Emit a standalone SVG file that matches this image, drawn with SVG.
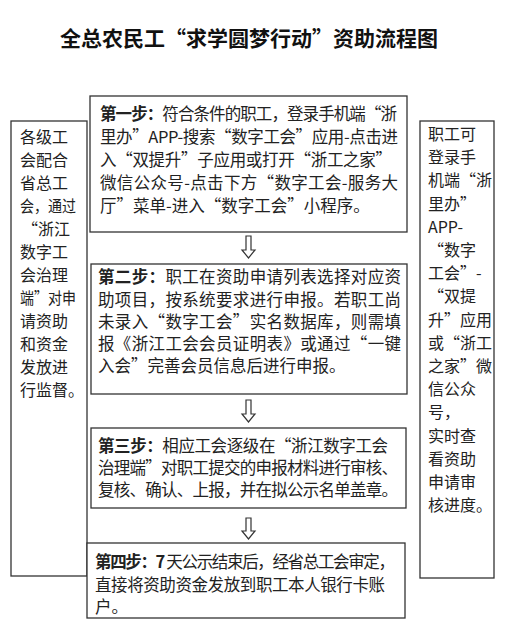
<svg xmlns="http://www.w3.org/2000/svg" width="506" height="638" viewBox="0 0 506 638">
<style>
.bg{fill:#ffffff}
.box{fill:#ffffff;stroke:#333333;stroke-width:1.3}
.t{font-family:"Noto Sans CJK SC","Noto Sans",sans-serif;font-size:16.5px;fill:#222222}
.s{font-family:"Noto Sans CJK SC","Noto Sans",sans-serif;font-size:16px;fill:#222222}
.b{font-weight:bold}
.title{font-family:"Noto Sans CJK SC","Noto Sans",sans-serif;font-size:21px;font-weight:bold;fill:#111111}
.arr{fill:#ffffff;stroke:#333333;stroke-width:1.2;stroke-linejoin:miter}
</style>
<rect class="bg" x="0" y="0" width="506" height="638"/>
<text class="title" x="249" y="46" text-anchor="middle">全总农民工“求学圆梦行动”资助流程图</text>

<g id="left-note">
<rect class="box" x="11" y="121" width="76" height="455"/>
<text class="s" x="20" y="143">各级工</text>
<text class="s" x="20" y="166">会配合</text>
<text class="s" x="20" y="189">省总工</text>
<text class="s" x="20" y="212" textLength="56" lengthAdjust="spacingAndGlyphs">会，通过</text>
<text class="s" x="22" y="235">“浙江</text>
<text class="s" x="20" y="258">数字工</text>
<text class="s" x="20" y="281">会治理</text>
<text class="s" x="20" y="304" textLength="56" lengthAdjust="spacingAndGlyphs">端”对申</text>
<text class="s" x="20" y="327">请资助</text>
<text class="s" x="20" y="350">和资金</text>
<text class="s" x="20" y="373">发放进</text>
<text class="s" x="20" y="396">行监督。</text>
</g>

<g id="right-note">
<rect class="box" x="420" y="121" width="74" height="457"/>
<text class="s" x="428" y="140">职工可</text>
<text class="s" x="428" y="163">登录手</text>
<text class="s" x="428" y="186">机端“浙</text>
<text class="s" x="428" y="210">里办”</text>
<text class="s" x="428" y="233">APP-</text>
<text class="s" x="428" y="256">“数字</text>
<text class="s" x="428" y="279">工会”-</text>
<text class="s" x="428" y="302">“双提</text>
<text class="s" x="428" y="326">升”应用</text>
<text class="s" x="428" y="349">或“浙工</text>
<text class="s" x="428" y="372">之家”微</text>
<text class="s" x="428" y="395">信公众</text>
<text class="s" x="428" y="418">号，</text>
<text class="s" x="428" y="442">实时查</text>
<text class="s" x="428" y="465">看资助</text>
<text class="s" x="428" y="488">申请审</text>
<text class="s" x="428" y="511">核进度。</text>
</g>

<g id="step1">
<rect class="box" x="90" y="96" width="317" height="136"/>
<text class="t" x="100" y="120" textLength="297" lengthAdjust="spacing"><tspan class="b">第一步：</tspan>符合条件的职工，登录手机端“浙</text>
<text class="t" x="100" y="143" textLength="298" lengthAdjust="spacing">里办”APP-搜索“数字工会”应用-点击进</text>
<text class="t" x="100" y="166" textLength="292" lengthAdjust="spacing">入“双提升”子应用或打开“浙工之家”</text>
<text class="t" x="100" y="189" textLength="298" lengthAdjust="spacing">微信公众号-点击下方“数字工会-服务大</text>
<text class="t" x="100" y="212">厅”菜单-进入“数字工会”小程序。</text>
</g>

<g id="step2">
<rect class="box" x="91" y="264" width="316" height="130"/>
<text class="t" x="98" y="283" textLength="303" lengthAdjust="spacing"><tspan class="b">第二步：</tspan>职工在资助申请列表选择对应资</text>
<text class="t" x="98" y="306" textLength="303" lengthAdjust="spacing">助项目，按系统要求进行申报。若职工尚</text>
<text class="t" x="98" y="328" textLength="303" lengthAdjust="spacing">未录入“数字工会”实名数据库，则需填</text>
<text class="t" x="98" y="350" textLength="303" lengthAdjust="spacing">报《浙江工会会员证明表》或通过“一键</text>
<text class="t" x="98" y="372">入会”完善会员信息后进行申报。</text>
</g>

<g id="step3">
<rect class="box" x="91" y="428" width="315" height="80"/>
<text class="t" x="98" y="452" textLength="290" lengthAdjust="spacing"><tspan class="b">第三步：</tspan>相应工会逐级在“浙江数字工会</text>
<text class="t" x="98" y="474" textLength="300" lengthAdjust="spacing">治理端”对职工提交的申报材料进行审核、</text>
<text class="t" x="98" y="496" textLength="300" lengthAdjust="spacing">复核、确认、上报，并在拟公示名单盖章。</text>
</g>

<g id="step4">
<rect class="box" x="87" y="543" width="318" height="75"/>
<text class="t" x="95" y="568" textLength="300" lengthAdjust="spacing"><tspan class="b">第四步：7</tspan> 天公示结束后，经省总工会审定，</text>
<text class="t" x="95" y="591" textLength="290" lengthAdjust="spacing">直接将资助资金发放到职工本人银行卡账</text>
<text class="t" x="95" y="613">户。</text>
</g>

<g id="connectors">
<path class="arr" d="M246,236 H251 V250 H255 L248.5,258 L242,250 H246 Z"/>
<path class="arr" d="M246,400 H251 V414 H255 L248.5,422 L242,414 H246 Z"/>
<path class="arr" d="M246,518 H251 V531 H255 L248.5,539 L242,531 H246 Z"/>
</g>
</svg>
